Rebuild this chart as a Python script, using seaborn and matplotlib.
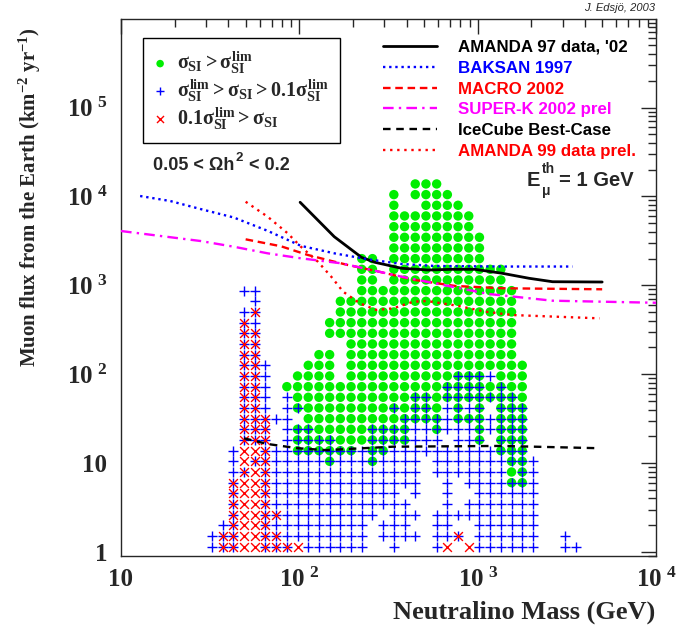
import numpy as np
import pandas as pd
import matplotlib
matplotlib.use("Agg")
import matplotlib.pyplot as plt
import seaborn as sns

# ------------------------------------------------------------------ data
# Model scan, binned on a 50 x 50 log grid: mass 10..1e4 GeV, flux 1..1e6 km^-2 yr^-1
mass_range = (10.0, 1.0e4)
flux_range = (1.0, 1.0e6)
n_bins = 50
first_mass_bin = 8          # first column of scan_map
# rows: flux bin 34 (top) ... 0 (bottom); columns: mass bins 8..42 (groups of 5)
# g: sigma_SI > lim   b: lim > sigma_SI > 0.1 lim   r: 0.1 lim > sigma_SI
# o: g and b in the same bin   x: r and b in the same bin
scan_map = [
    "..... ..... ..... ....g gg... ..... .....",
    "..... ..... ..... ..g.g ggg.. ..... .....",
    "..... ..... ..... ..g.. gggg. ..... .....",
    "..... ..... ..... ..ggg ggggg ..... .....",
    "..... ..... ..... ..ggg ggggg ..... .....",
    "..... ..... ..... ..ggg ggggg g.... .....",
    "..... ..... ..... ..ggg ggggg g.... .....",
    "..... ..... ....g g.ggg ggggg g.... .....",
    "..... ..... ....g g.ggg ggggg ggg.. .....",
    "..... ..... ....g g.ggg ggggg ggg.. .....",
    "...bb ..... ....g ggggg ggggg gggg. .....",
    "....b ..... ..ggg ggggg ggggg gggg. .....",
    "...bx ..... ..ggg ggggg ggggg gggg. .....",
    "...xb ..... .gggg ggggg ggggg gggg. .....",
    "...xx ..... .gggg ggggg ggggg gggg. .....",
    "...xx ..... ...gg ggggg ggggg gggg. .....",
    "...xx ..... gg.gg ggggg ggggg gggg. .....",
    "...xx b...g gg.gg ggggg ggggg ggggg .....",
    "...xx b..gg gg.gg ggggg gggoo obggg .....",
    "...xx b.ggg ggggg ggggg ggooo ogogg .....",
    "...xx b.bgg ggggg ggggo ogooo oooog .....",
    "...xx b.bog ggggg ggogo ogbob o.ooo .....",
    "...xx xbb.g ggggg gggoo ooboo obooo .....",
    "...xx x.boo ggggg oooob bobbb obooo .....",
    "...xx x.boo ooggg oooob bb.bb o.ooo .....",
    "..brr xbboo oooob oobbb bbbbb bbooo .....",
    "..brx xbbbb bobbb obbbb .bbbb bbboo b....",
    "..bxr xbbbb bbbbb bbbbb .bbbb bbbgo b....",
    "..xrr xbbbb bbbbb bbbbb ..b.b bbboo b....",
    "..xrr xbbbb bbbbb bbb.b ..b.. bbbbb b....",
    "..xrr xbbbb bbbbb bbbb. ..b.b bbbbb b....",
    "..xrr xxbbb bbbbb b.bbb .bbbb bbbbb b....",
    ".bxrr xbbbb bbbbb .bbb. .bb.. bbbbb b....",
    "bxxrr xxbbb bbbbb .bbbb .bbx. bbbbb b..b.",
    "bxxrr xxxrb bbbbb ..b.. .br.r bbbbb b..bb",
]

# Limit / sensitivity curves (mass in GeV, muon flux in km^-2 yr^-1)
amanda97_mass = [101, 157, 223, 265, 375, 530, 717, 967, 1373, 1942, 2630, 4990]
amanda97_flux = [8590, 3520, 2065, 1815, 1553, 1486, 1513, 1513, 1365, 1199, 1097, 1089]

baksan_mass = [12.8, 18.9, 27.9, 42.9, 66.4, 102, 157, 243, 375, 575, 1373, 3400]
baksan_flux = [10100, 8870, 7210, 5790, 4100, 2780, 2290, 1960, 1737, 1650, 1626, 1626]

macro_mass = [50, 78.8, 111, 151, 187, 265, 445, 749, 1373, 4990]
macro_flux = [3290, 2750, 2200, 1880, 1692, 1459, 1147, 983, 926, 902]

superk_mass = [10, 16.6, 27.9, 42.9, 66.4, 102, 172, 375, 575, 1155, 2630, 9640, 10000]
superk_flux = [4080, 3590, 3150, 2716, 2290, 2012, 1767, 1250, 1052, 798, 671, 637, 636]

icecube_mass = [49, 66.4, 98, 141, 336, 1373, 4820]
icecube_flux = [19.0, 16.4, 14.7, 14.0, 15.3, 15.6, 14.7]

amanda99_mass = [50, 66.4, 86, 102, 127, 151, 176, 218, 271, 336, 436, 519, 766, 1105, 1563, 4820]
amanda99_flux = [8710, 5910, 3845, 2718, 1844, 1250, 848, 628, 528, 551, 654, 666, 590, 505, 463, 425]

curve_labels = ["AMANDA 97 data, '02", "BAKSAN 1997", "MACRO 2002",
                "SUPER-K 2002 prel", "IceCube Best-Case", "AMANDA 99 data prel."]
scan_labels = [r"$\sigma_{SI} > \sigma_{SI}^{lim}$",
               r"$\sigma_{SI}^{lim} > \sigma_{SI} > 0.1\sigma_{SI}^{lim}$",
               r"$0.1\sigma_{SI}^{lim} > \sigma_{SI}$"]
x_ticks = [10, 100, 1000, 10000]
x_ticklabels = ["10", r"$10^{\ 2}$", r"$10^{\ 3}$", r"$10^{\ 4}$"]
y_ticks = [1, 10, 100, 1000, 10000, 100000]
y_ticklabels = ["1", "10", r"$10^{\ 2}$", r"$10^{\ 3}$", r"$10^{\ 4}$", r"$10^{\ 5}$"]

# ------------------------------------------------------------------ decode scan map
m_edges = np.logspace(np.log10(mass_range[0]), np.log10(mass_range[1]), n_bins + 1)
f_edges = np.logspace(np.log10(flux_range[0]), np.log10(flux_range[1]), n_bins + 1)
m_cent = np.sqrt(m_edges[:-1] * m_edges[1:])
f_cent = np.sqrt(f_edges[:-1] * f_edges[1:])

rows = []
nrow = len(scan_map)
for k, line in enumerate(scan_map):
    fb = nrow - 1 - k
    for c, ch in enumerate(line.replace(" ", "")):
        mb = first_mass_bin + c
        if mb >= n_bins:
            continue
        if ch in "go":
            rows.append((m_cent[mb], f_cent[fb], "green"))
        if ch in "obx":
            rows.append((m_cent[mb], f_cent[fb], "blue"))
        if ch in "rx":
            rows.append((m_cent[mb], f_cent[fb], "red"))
scan = pd.DataFrame(rows, columns=["mass", "flux", "cls"])

# ------------------------------------------------------------------ style
sns.set_style("white")
plt.rcParams["font.family"] = ["Liberation Serif", "DejaVu Serif"]
plt.rcParams["font.weight"] = "bold"
plt.rcParams["mathtext.fontset"] = "custom"
plt.rcParams["mathtext.rm"] = "Liberation Serif:bold"
plt.rcParams["mathtext.it"] = "Liberation Serif:bold"
plt.rcParams["mathtext.bf"] = "Liberation Serif:bold"
plt.rcParams["axes.linewidth"] = 1.0

W, H = 682, 633
fig = plt.figure(figsize=(W / 100, H / 100), dpi=100)
ax_l, ax_r, ax_t, ax_b = 121, 656, 18.6, 556.4
ax = fig.add_axes([ax_l / W, (H - ax_b) / H, (ax_r - ax_l) / W, (ax_b - ax_t) / H])
ax.set_xscale("log")
ax.set_yscale("log")

GREEN, BLUE, RED, MAG = "#00ee00", "#0000ff", "#ff0000", "#ff00ff"

d = scan[scan.cls == "green"]
sns.scatterplot(x=d.mass, y=d.flux, ax=ax, marker="o", s=46, color=GREEN,
                edgecolor="none", linewidth=0, zorder=2, label=scan_labels[0])
d = scan[scan.cls == "blue"]
sns.scatterplot(x=d.mass, y=d.flux, ax=ax, marker="+", s=55, color=BLUE,
                linewidth=1.0, zorder=3, label=scan_labels[1])
d = scan[scan.cls == "red"]
sns.scatterplot(x=d.mass, y=d.flux, ax=ax, marker="x", s=40, color=RED,
                linewidth=1.0, zorder=4, label=scan_labels[2])
scat_handles, _ = ax.get_legend_handles_labels()

curves = [
    (amanda97_mass, amanda97_flux, "black", "-", 2.0),
    (baksan_mass, baksan_flux, BLUE, (0, (1, 1.6)), 1.7),
    (macro_mass, macro_flux, RED, (0, (3.2, 2.0)), 1.7),
    (superk_mass, superk_flux, MAG, (0, (4.5, 2.2, 1, 2.2)), 1.7),
    (icecube_mass, icecube_flux, "black", (0, (3.2, 2.4)), 1.7),
    (amanda99_mass, amanda99_flux, RED, (0, (1, 2.0)), 1.7),
]
for (mx, fy, col, ls, lw), lab in zip(curves, curve_labels):
    sns.lineplot(x=mx, y=fy, ax=ax, color=col, linestyle=ls, linewidth=lw,
                 sort=False, estimator=None, zorder=6, label=lab)
all_handles, all_labels = ax.get_legend_handles_labels()
line_handles = all_handles[3:]

ax.set_xlim(10, 1e4)
ax.set_ylim(10 ** (-(ax_b - 552.0) / 88.9), 1e6)
ax.set_xlabel("")
ax.set_ylabel("")
ax.set_xticks(x_ticks)
ax.set_xticklabels(x_ticklabels, fontsize=18)
ax.set_yticks(y_ticks)
ax.set_yticklabels(y_ticklabels, fontsize=18)
ax.tick_params(which="both", direction="in", top=True, right=True, width=1)
ax.tick_params(which="major", length=11)
ax.tick_params(which="minor", length=6)
ax.tick_params(axis="x", which="major", pad=8)
ax.tick_params(axis="y", which="major", pad=10)
ax.tick_params(axis="x", which="minor", labelbottom=False)
ax.tick_params(axis="y", which="minor", labelleft=False)

# scan legend (boxed)
leg1 = ax.legend(scat_handles, scan_labels, loc="upper left",
                 bbox_to_anchor=((143 - ax_l) / (ax_r - ax_l), 1 - (38 - ax_t) / (ax_b - ax_t)),
                 frameon=True, fancybox=False, edgecolor="black", framealpha=1,
                 fontsize=14.5, handlelength=0.6, handletextpad=0.55, labelspacing=0.05,
                 borderpad=0.55, borderaxespad=0, markerscale=0.8)
leg1.get_frame().set_linewidth(1.0)
ax.add_artist(leg1)

# curve legend (no box)
leg2 = ax.legend(line_handles, curve_labels, loc="upper left",
                 bbox_to_anchor=((383 - ax_l) / (ax_r - ax_l), 1 - (40 - ax_t) / (ax_b - ax_t)),
                 frameon=False, borderpad=0, borderaxespad=0,
                 handlelength=3.2, handletextpad=1.25, labelspacing=0.34,
                 prop={"family": "Liberation Sans", "weight": "bold", "size": 12.2})
for t, h in zip(leg2.get_texts(), line_handles):
    t.set_color(h.get_color())

# texts
SANS = ["Liberation Sans", "DejaVu Sans"]
renderer = fig.canvas.get_renderer()


def put(x_px, y_px, s, size, **kw):
    t = fig.text(x_px / W, 1 - y_px / H, s, ha="left", va="center", fontsize=size,
                 family=SANS, fontweight="bold", **kw)
    return t, t.get_window_extent(renderer)


fig.text(30 / W, 1 - 197 / H, r"Muon flux from the Earth (km$^{-2}$ yr$^{-1}$)",
         rotation=90, ha="center", va="center", fontsize=15, fontweight="bold")
fig.text(655 / W, 1 - 612 / H, "Neutralino Mass (GeV)", ha="right", va="center",
         fontsize=19, fontweight="bold")
fig.text(655 / W, 1 - 8 / H, "J. Edsjö, 2003", ha="right", va="center",
         fontsize=8, style="italic", family=SANS, fontweight="normal")

# 0.05 < Omega h^2 < 0.2
_, bb = put(153, 166, "0.05 < Ωh", 13)
_, bb2 = put(bb.x1 + 1.5, 158, "2", 9.5)
put(bb2.x1 + 1, 166, " < 0.2", 13)

# E_mu^th = 1 GeV
_, bbE = put(527, 180, "E", 14.5)
_, bbt = put(bbE.x1 + 1.5, 169, "th", 10)
_, bbm = put(bbE.x1 + 1.5, 191, "μ", 10)
put(max(bbt.x1, bbm.x1) + 4, 180, "= 1 GeV", 14.5)

fig.savefig("out.png", dpi=100)
